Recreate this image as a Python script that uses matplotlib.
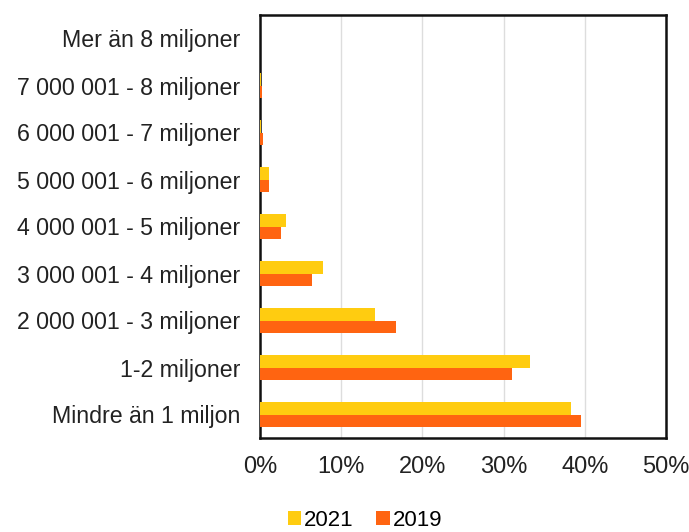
import matplotlib
matplotlib.use("Agg")
import matplotlib.pyplot as plt
import numpy as np
from matplotlib.ticker import PercentFormatter

plt.rcParams['font.family'] = ['Liberation Sans', 'DejaVu Sans']

categories = ["Mindre än 1 miljon", "1-2 miljoner", "2 000 001 - 3 miljoner",
              "3 000 001 - 4 miljoner", "4 000 001 - 5 miljoner", "5 000 001 - 6 miljoner",
              "6 000 001 - 7 miljoner", "7 000 001 - 8 miljoner", "Mer än 8 miljoner"]
v2021 = [38.3, 33.3, 14.2, 7.7, 3.2, 1.1, 0.1, 0.1, 0.0]
v2019 = [39.5, 31.0, 16.8, 6.4, 2.6, 1.1, 0.4, 0.25, 0.0]

fig = plt.figure(figsize=(6.89, 5.32), dpi=100)
ax = fig.add_axes([260/689, 1-438/532, 406/689, 423/532])

y = np.arange(len(categories))
h = 0.27
ax.barh(y + h/2, v2021, height=h, color="#FFCC10", label="2021", zorder=3)
ax.barh(y - h/2, v2019, height=h, color="#FF6411", label="2019", zorder=3)

ax.set_xlim(0, 50)
ax.set_ylim(-0.5, len(categories) - 0.5)
ax.set_xticks(np.arange(0, 51, 10))
ax.xaxis.set_major_formatter(PercentFormatter(decimals=0))
ax.set_yticks(y)
ax.set_yticklabels(categories)
ax.tick_params(axis='both', length=0, colors="#222222")
ax.tick_params(axis='x', pad=13, labelsize=17)
ax.tick_params(axis='y', pad=14, labelsize=16.7)
ax.grid(axis='x', color="#DDDDDD", linewidth=1, zorder=0)
for s in ax.spines.values():
    s.set_color("#111111")
    s.set_linewidth(1.8)

leg = fig.legend(loc='center', bbox_to_anchor=(365/689, 1-520/532), ncol=2, frameon=False,
                 fontsize=16, handlelength=0.6, handleheight=0.6, handletextpad=0.15,
                 columnspacing=1.0)
fig.savefig("out.png", dpi=100)
